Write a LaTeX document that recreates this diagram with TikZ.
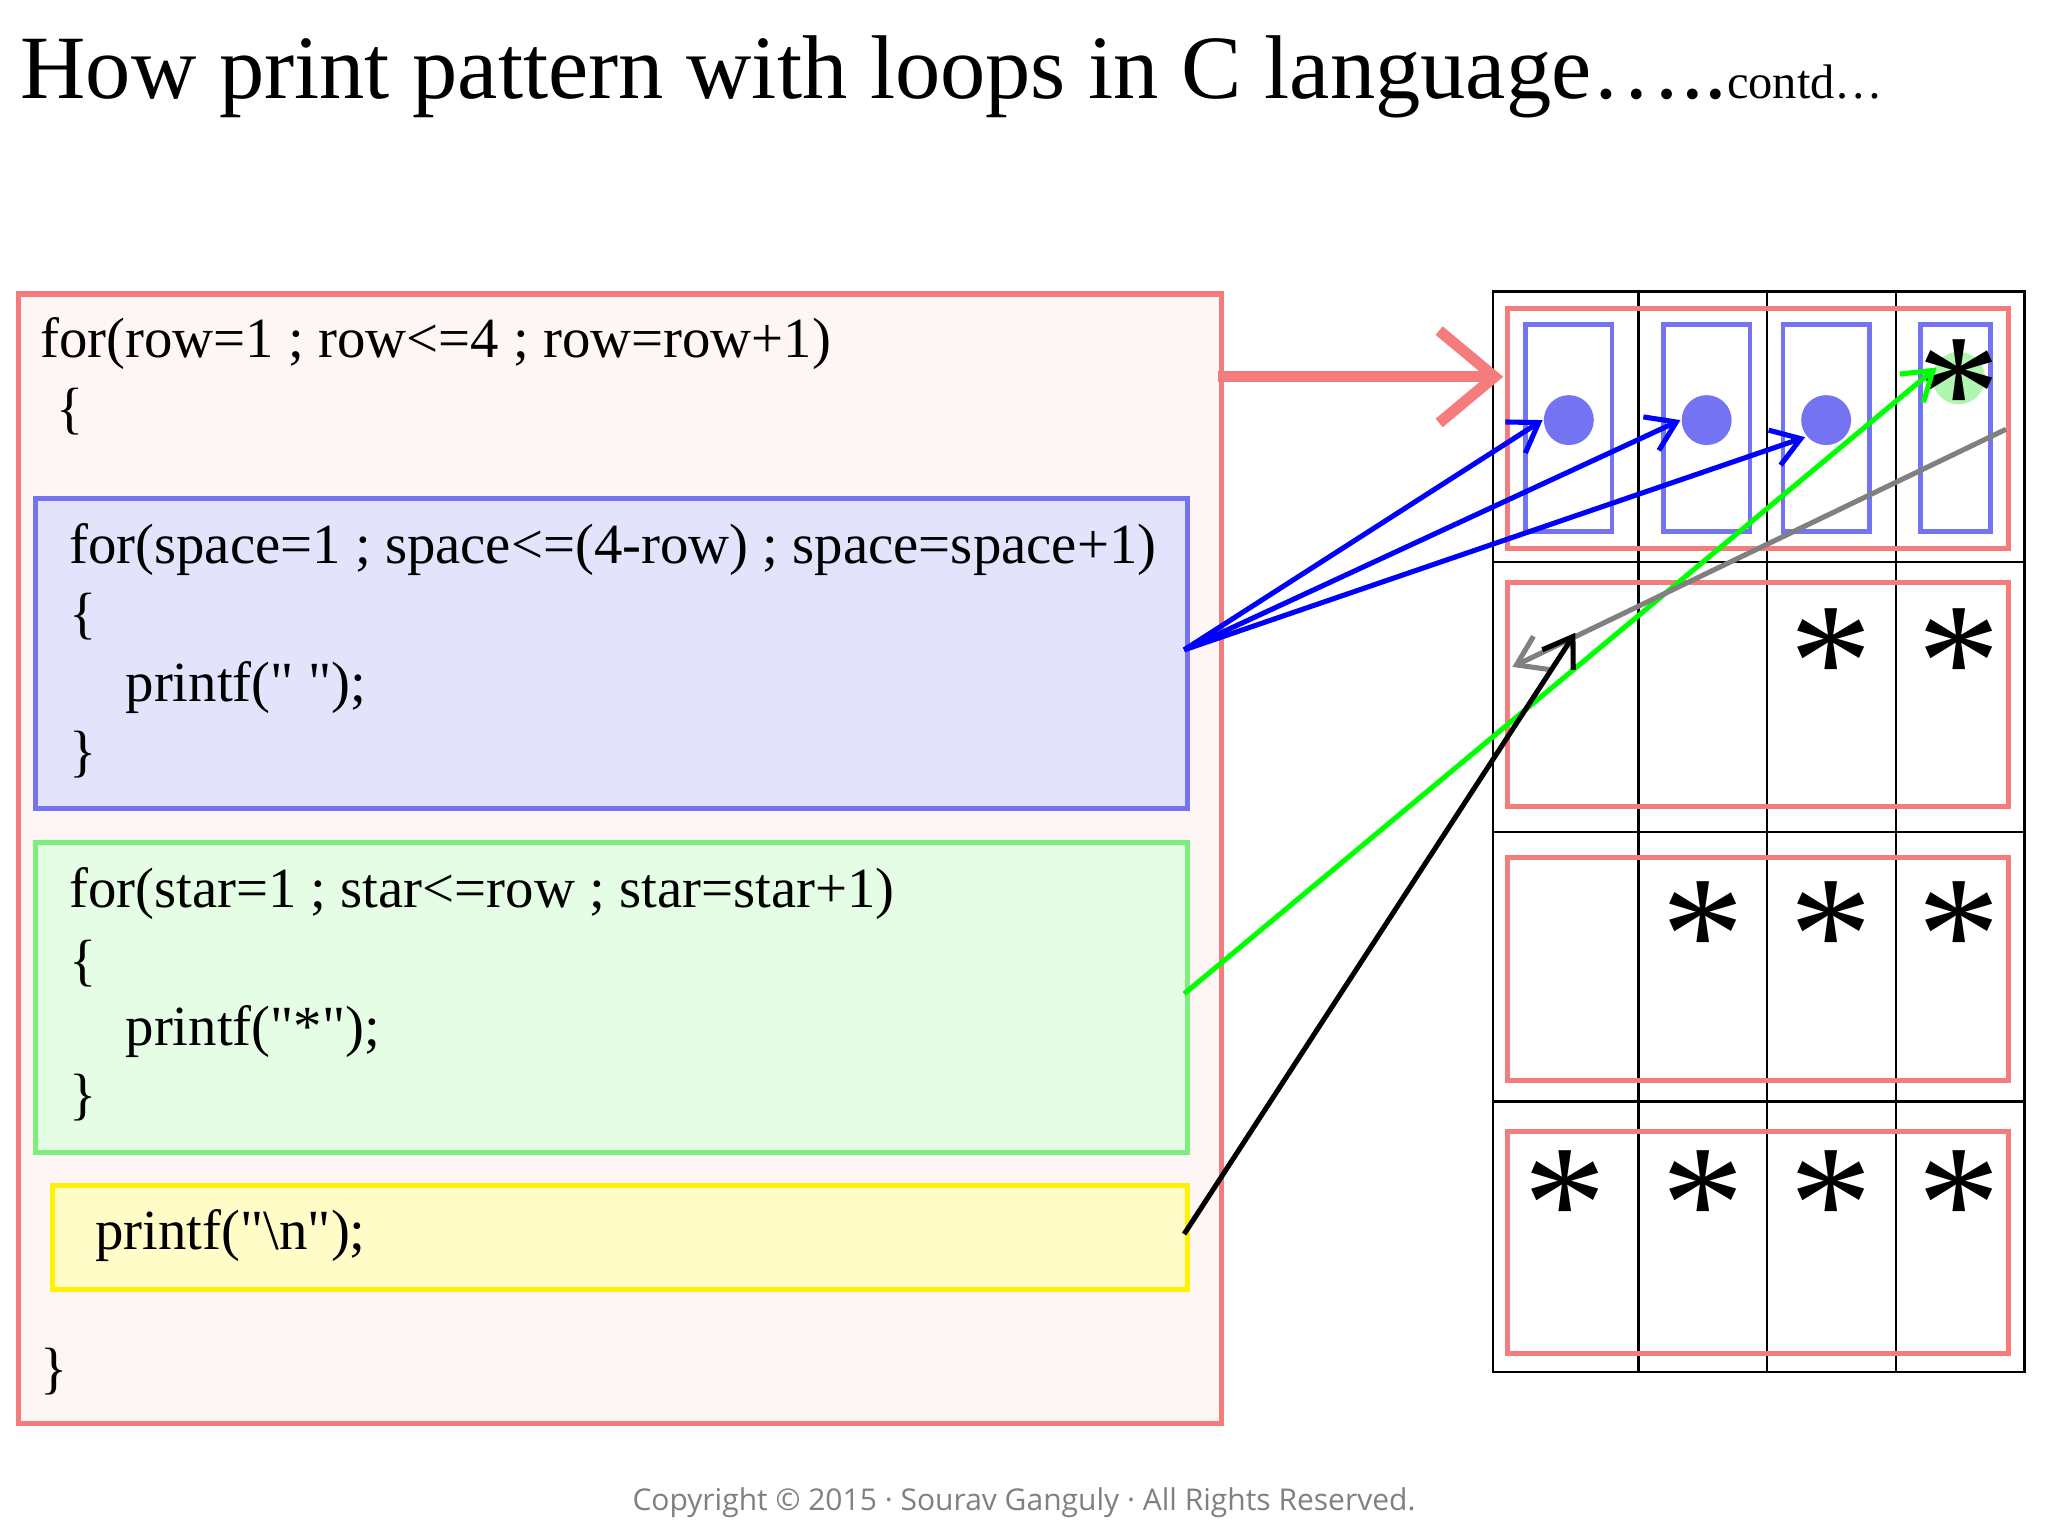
\documentclass[tikz,border=0pt]{standalone}
\usepackage{fontspec}
\setmainfont{Liberation Serif}
\newfontfamily\copyfont{Open Sans}
\usetikzlibrary{arrows.meta}
\definecolor{redl}{HTML}{F47C7C}
\definecolor{bluel}{HTML}{7474F2}
\definecolor{greenl}{HTML}{7CEE7C}
\tikzset{
  codetxt/.style={anchor=base west,inner sep=0pt,font=\fontsize{12.3pt}{14pt}\selectfont},
  starnode/.style={inner sep=0pt,font=\fontsize{36pt}{36pt}\selectfont},
  cell/.style={draw=black,line width=0.5pt},
  rowbox/.style={draw=redl,line width=1.1pt},
  spbox/.style={draw=bluel,line width=1pt},
  dot/.style={circle,fill=bluel,minimum size=38*0.2845pt,inner sep=0pt},
  conn/.style={line width=1.1pt,-{Straight Barb[length=6pt,width=8pt]}}
}
\begin{document}
\begin{tikzpicture}[x=0.01cm,y=-0.01cm]
\useasboundingbox (0,0) rectangle (1560,1170);
\fill[white] (0,0) rectangle (1560,1170);
\node[anchor=base west,inner sep=0pt,font=\fontsize{19.6pt}{24pt}\selectfont] (title) at (15,75) {How print pattern with loops in C language\dots..{\fontsize{10.5pt}{12pt}\selectfont contd\dots}};
% code boxes
\node[draw=redl,fill=redl!8,line width=1.1pt,minimum width=916*0.2845pt,minimum height=860*0.2845pt,anchor=north west,inner sep=0pt] (outer) at (12,222) {};
\node[draw=bluel,fill=bluel!20!white,line width=1.1pt,minimum width=877*0.2845pt,minimum height=236*0.2845pt,anchor=north west,inner sep=0pt] (spb) at (25,378) {};
\node[draw=greenl,fill=greenl!20!white,line width=1.1pt,minimum width=877*0.2845pt,minimum height=236*0.2845pt,anchor=north west,inner sep=0pt] (stb) at (25,640) {};
\node[draw=yellow,fill=yellow!22!white,line width=1.1pt,minimum width=864*0.2845pt,minimum height=79*0.2845pt,anchor=north west,inner sep=0pt] (nlb) at (38,901) {};
\node[codetxt] (t1) at (30,272) {for(row=1 ; row<=4 ; row=row+1)};
\node[codetxt] (t2) at (42,326) {\{};
\node[codetxt] (t3) at (52,429) {for(space=1 ; space<=(4-row) ; space=space+1)};
\node[codetxt] (t4) at (52,482) {\{};
\node[codetxt] (t5) at (95,534) {printf(\textquotedbl{} \textquotedbl{});};
\node[codetxt] (t6) at (52,587) {\}};
\node[codetxt] (t7) at (52,691) {for(star=1 ; star<=row ; star=star+1)};
\node[codetxt] (t8) at (52,746) {\{};
\node[codetxt] (t9) at (95,796) {printf(\textquotedbl*\textquotedbl);};
\node[codetxt] (t10) at (52,848) {\}};
\node[codetxt] (t11) at (72,952) {printf(\textquotedbl\textbackslash n\textquotedbl);};
\node[codetxt] (t12) at (30,1057) {\}};
% grid
\draw[cell] (1137,222) rectangle (1542,1045);
\foreach \x in {1248,1346,1444} \draw[cell] (\x,222) -- (\x,1045);
\foreach \y in {428,634,839} \draw[cell] (1137,\y) -- (1542,\y);
\draw[rowbox] (1148,235) rectangle (1530,418);
\draw[rowbox] (1148,444) rectangle (1530,614);
\draw[rowbox] (1148,653) rectangle (1530,823);
\draw[rowbox] (1148,862) rectangle (1530,1031);
\draw[spbox] (1162,247) rectangle (1228,405);
\draw[spbox] (1267,247) rectangle (1333,405);
\draw[spbox] (1358,247) rectangle (1424,405);
\draw[spbox] (1463,247) rectangle (1516,405);
\node[dot] (d1) at (1195,320) {};
\node[dot] (d2) at (1300,320) {};
\node[dot] (d3) at (1391,320) {};
\fill[greenl!60!white] (1492,288) circle (20);
\node[starnode] (s14) at (1492,300) {*};
\node[starnode] (s23) at (1395,505) {*};
\node[starnode] (s24) at (1492,505) {*};
\node[starnode] (s32) at (1297,713) {*};
\node[starnode] (s33) at (1395,713) {*};
\node[starnode] (s34) at (1492,713) {*};
\node[starnode] (s41) at (1192,918) {*};
\node[starnode] (s42) at (1297,918) {*};
\node[starnode] (s43) at (1395,918) {*};
\node[starnode] (s44) at (1492,918) {*};
% connectors
\coordinate (rs) at (928,287);
\coordinate (re) at (1145,287);
\draw[redl,line width=2.4pt,-{Straight Barb[length=12pt,width=20pt]}] (rs) -- (re);
\coordinate (bs) at (902,495);
\coordinate (b1) at (1175,320);
\coordinate (b2) at (1280,320);
\coordinate (b3) at (1375,333);
\draw[conn,blue] (bs) -- (b1);
\draw[conn,blue] (bs) -- (b2);
\draw[conn,blue] (bs) -- (b3);
\coordinate (gs) at (902,757);
\coordinate (ge) at (1475,280);
\draw[conn,green] (gs) -- (ge);
\coordinate (ys) at (1528,327);
\coordinate (ye) at (1152,508);
\draw[conn,gray] (ys) -- (ye);
\coordinate (ks) at (902,940);
\coordinate (ke) at (1200,482);
\draw[conn,black] (ks) -- (ke);
\node[inner sep=0pt,text=gray,font=\copyfont\fontsize{6.5pt}{8pt}\selectfont] (copy) at (780,1145) {Copyright © 2015 · Sourav Ganguly · All Rights Reserved.};
\end{tikzpicture}
\end{document}
